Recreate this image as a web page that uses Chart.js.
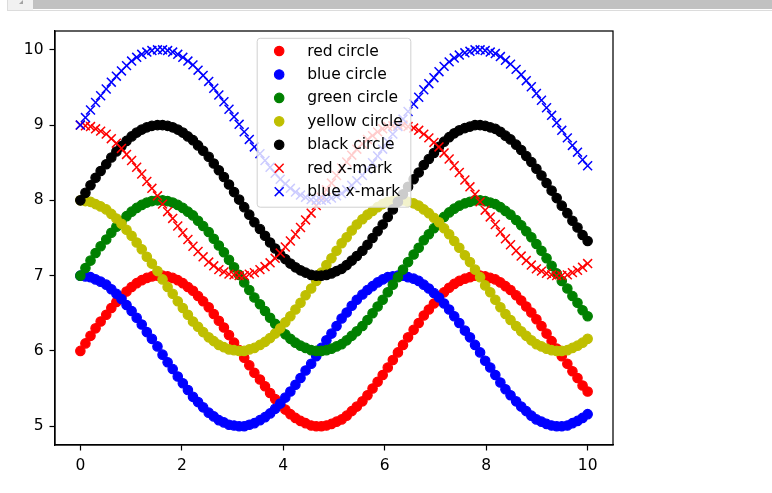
<!DOCTYPE html>
<html>
<head>
<meta charset="utf-8">
<script src="https://cdn.jsdelivr.net/npm/chart.js@4/dist/chart.umd.min.js"></script>
<style>
  html, body { margin: 0; padding: 0; background: #fff; width: 772px; height: 493px; overflow: hidden; }
  #wrap { position: absolute; left: 0; top: 0; width: 772px; height: 493px; }
  #sbLine { position: absolute; left: 7px; top: 10px; width: 765px; height: 1px; background: #dcdcdc; }
  #sbLeft { position: absolute; left: 7px; top: 0; width: 26px; height: 10px; background: #f1f1f1; border-left: 1px solid #dcdcdc; box-sizing: border-box; }
  #sbArrow { position: absolute; left: 19px; top: 0; width: 0; height: 0; border-top: 4px solid transparent; border-right: 4px solid #a3a3a3; }
  #sbThumb { position: absolute; left: 33px; top: 0; width: 739px; height: 9px; background: #c1c1c1; }
</style>
</head>
<body>
<div id="wrap"><canvas id="c" width="772" height="493"></canvas></div>
<div id="sbLeft"></div><div id="sbArrow"></div><div id="sbThumb"></div><div id="sbLine"></div>
<script>
const xs = [
0.00,0.10,0.20,0.30,0.40,0.51,0.61,0.71,0.81,0.91,
1.01,1.11,1.21,1.31,1.41,1.52,1.62,1.72,1.82,1.92,
2.02,2.12,2.22,2.32,2.42,2.53,2.63,2.73,2.83,2.93,
3.03,3.13,3.23,3.33,3.43,3.54,3.64,3.74,3.84,3.94,
4.04,4.14,4.24,4.34,4.44,4.55,4.65,4.75,4.85,4.95,
5.05,5.15,5.25,5.35,5.45,5.56,5.66,5.76,5.86,5.96,
6.06,6.16,6.26,6.36,6.46,6.57,6.67,6.77,6.87,6.97,
7.07,7.17,7.27,7.37,7.47,7.58,7.68,7.78,7.88,7.98,
8.08,8.18,8.28,8.38,8.48,8.59,8.69,8.79,8.89,8.99,
9.09,9.19,9.29,9.39,9.49,9.60,9.70,9.80,9.90,10.00];

const redCircle = [
6.00,6.10,6.20,6.30,6.39,6.48,6.57,6.65,6.72,6.79,
6.85,6.90,6.94,6.97,6.99,7.00,7.00,6.99,6.97,6.94,
6.90,6.85,6.80,6.73,6.66,6.58,6.49,6.40,6.31,6.21,
6.11,6.01,5.91,5.81,5.71,5.62,5.53,5.44,5.36,5.28,
5.22,5.16,5.11,5.07,5.04,5.01,5.00,5.00,5.01,5.03,
5.06,5.09,5.14,5.20,5.26,5.33,5.41,5.50,5.59,5.68,
5.78,5.88,5.98,6.08,6.18,6.28,6.37,6.47,6.55,6.63,
6.71,6.78,6.84,6.89,6.93,6.96,6.98,7.00,7.00,6.99,
6.97,6.95,6.91,6.86,6.81,6.74,6.67,6.59,6.51,6.42,
6.33,6.23,6.13,6.03,5.93,5.83,5.73,5.64,5.54,5.46];

const blueCircle = [
7.00,6.99,6.98,6.95,6.92,6.88,6.82,6.76,6.69,6.61,
6.53,6.44,6.35,6.25,6.16,6.06,5.95,5.85,5.76,5.66,
5.57,5.48,5.39,5.32,5.25,5.18,5.13,5.08,5.05,5.02,
5.01,5.00,5.00,5.02,5.04,5.08,5.12,5.17,5.23,5.30,
5.38,5.46,5.55,5.64,5.74,5.83,5.93,6.04,6.14,6.23,
6.33,6.43,6.51,6.60,6.68,6.75,6.81,6.86,6.91,6.95,
6.98,6.99,7.00,7.00,6.98,6.96,6.93,6.88,6.83,6.77,
6.71,6.63,6.55,6.46,6.37,6.27,6.18,6.08,5.98,5.87,
5.78,5.68,5.58,5.49,5.41,5.33,5.26,5.20,5.14,5.09,
5.06,5.03,5.01,5.00,5.00,5.01,5.04,5.07,5.11,5.16];

const greenCircle = [
7.00,7.10,7.20,7.30,7.39,7.48,7.57,7.65,7.72,7.79,
7.85,7.90,7.94,7.97,7.99,8.00,8.00,7.99,7.97,7.94,
7.90,7.85,7.80,7.73,7.66,7.58,7.49,7.40,7.31,7.21,
7.11,7.01,6.91,6.81,6.71,6.62,6.53,6.44,6.36,6.28,
6.22,6.16,6.11,6.07,6.04,6.01,6.00,6.00,6.01,6.03,
6.06,6.09,6.14,6.20,6.26,6.33,6.41,6.50,6.59,6.68,
6.78,6.88,6.98,7.08,7.18,7.28,7.37,7.47,7.55,7.63,
7.71,7.78,7.84,7.89,7.93,7.96,7.98,8.00,8.00,7.99,
7.97,7.95,7.91,7.86,7.81,7.74,7.67,7.59,7.51,7.42,
7.33,7.23,7.13,7.03,6.93,6.83,6.73,6.64,6.54,6.46];

const yellowCircle = [
8.00,7.99,7.98,7.95,7.92,7.88,7.82,7.76,7.69,7.61,
7.53,7.44,7.35,7.25,7.16,7.06,6.95,6.85,6.76,6.66,
6.57,6.48,6.39,6.32,6.25,6.18,6.13,6.08,6.05,6.02,
6.01,6.00,6.00,6.02,6.04,6.08,6.12,6.17,6.23,6.30,
6.38,6.46,6.55,6.64,6.74,6.83,6.93,7.04,7.14,7.23,
7.33,7.43,7.51,7.60,7.68,7.75,7.81,7.86,7.91,7.95,
7.98,7.99,8.00,8.00,7.98,7.96,7.93,7.88,7.83,7.77,
7.71,7.63,7.55,7.46,7.37,7.27,7.18,7.08,6.98,6.87,
6.78,6.68,6.58,6.49,6.41,6.33,6.26,6.20,6.14,6.09,
6.06,6.03,6.01,6.00,6.00,6.01,6.04,6.07,6.11,6.16];

const blackCircle = [
8.00,8.10,8.20,8.30,8.39,8.48,8.57,8.65,8.72,8.79,
8.85,8.90,8.94,8.97,8.99,9.00,9.00,8.99,8.97,8.94,
8.90,8.85,8.80,8.73,8.66,8.58,8.49,8.40,8.31,8.21,
8.11,8.01,7.91,7.81,7.71,7.62,7.53,7.44,7.36,7.28,
7.22,7.16,7.11,7.07,7.04,7.01,7.00,7.00,7.01,7.03,
7.06,7.09,7.14,7.20,7.26,7.33,7.41,7.50,7.59,7.68,
7.78,7.88,7.98,8.08,8.18,8.28,8.37,8.47,8.55,8.63,
8.71,8.78,8.84,8.89,8.93,8.96,8.98,9.00,9.00,8.99,
8.97,8.95,8.91,8.86,8.81,8.74,8.67,8.59,8.51,8.42,
8.33,8.23,8.13,8.03,7.93,7.83,7.73,7.64,7.54,7.46];

const redXMark = [
9.00,8.99,8.98,8.95,8.92,8.88,8.82,8.76,8.69,8.61,
8.53,8.44,8.35,8.25,8.16,8.06,7.95,7.85,7.76,7.66,
7.57,7.48,7.39,7.32,7.25,7.18,7.13,7.08,7.05,7.02,
7.01,7.00,7.00,7.02,7.04,7.08,7.12,7.17,7.23,7.30,
7.38,7.46,7.55,7.64,7.74,7.83,7.93,8.04,8.14,8.23,
8.33,8.43,8.51,8.60,8.68,8.75,8.81,8.86,8.91,8.95,
8.98,8.99,9.00,9.00,8.98,8.96,8.93,8.88,8.83,8.77,
8.71,8.63,8.55,8.46,8.37,8.27,8.18,8.08,7.98,7.87,
7.78,7.68,7.58,7.49,7.41,7.33,7.26,7.20,7.14,7.09,
7.06,7.03,7.01,7.00,7.00,7.01,7.04,7.07,7.11,7.16];

const blueXMark = [
9.00,9.10,9.20,9.30,9.39,9.48,9.57,9.65,9.72,9.79,
9.85,9.90,9.94,9.97,9.99,10.00,10.00,9.99,9.97,9.94,
9.90,9.85,9.80,9.73,9.66,9.58,9.49,9.40,9.31,9.21,
9.11,9.01,8.91,8.81,8.71,8.62,8.53,8.44,8.36,8.28,
8.22,8.16,8.11,8.07,8.04,8.01,8.00,8.00,8.01,8.03,
8.06,8.09,8.14,8.20,8.26,8.33,8.41,8.50,8.59,8.68,
8.78,8.88,8.98,9.08,9.18,9.28,9.37,9.47,9.55,9.63,
9.71,9.78,9.84,9.89,9.93,9.96,9.98,10.00,10.00,9.99,
9.97,9.95,9.91,9.86,9.81,9.74,9.67,9.59,9.51,9.42,
9.33,9.23,9.13,9.03,8.93,8.83,8.73,8.64,8.54,8.46];

const seriesNames = ['red circle','blue circle','green circle','yellow circle','black circle','red x-mark','blue x-mark'];
const seriesValues = [redCircle, blueCircle, greenCircle, yellowCircle, blackCircle, redXMark, blueXMark];
const seriesColors = ['#ff0000','#0000ff','#008000','#bfbf00','#000000','#ff0000','#0000ff'];
const seriesMarkers = ['circle','circle','circle','circle','circle','crossRot','crossRot'];
const xTicks = [0,2,4,6,8,10];
const yTicks = [5,6,7,8,9,10];

const FONT = "'DejaVu Sans', sans-serif";
const FONT_SIZE = 15.5;
const CIRCLE_R = 4.7, CIRCLE_BW = 1.2, CROSS_R = 6.3, CROSS_BW = 1.5;

const datasets = seriesNames.map((name, k) => ({
  label: name,
  data: xs.map((x, i) => ({ x: x, y: seriesValues[k][i] })),
  showLine: false,
  pointStyle: seriesMarkers[k],
  pointRadius: seriesMarkers[k] === 'circle' ? CIRCLE_R : CROSS_R,
  pointBorderWidth: seriesMarkers[k] === 'circle' ? CIRCLE_BW : CROSS_BW,
  pointBackgroundColor: seriesColors[k],
  pointBorderColor: seriesColors[k],
  backgroundColor: seriesColors[k],
  borderColor: seriesColors[k],
  order: seriesNames.length - k,
  clip: false
}));

const framePlugin = {
  id: 'frame',
  afterDatasetsDraw(chart) {
    const { ctx, chartArea: a } = chart;
    ctx.save();
    ctx.strokeStyle = '#000';
    ctx.lineWidth = 1.25;
    ctx.strokeRect(a.left, a.top, a.right - a.left, a.bottom - a.top);
    ctx.restore();
  }
};

const legendPlugin = {
  id: 'mplLegend',
  afterDraw(chart) {
    const { ctx, chartArea: a } = chart;
    ctx.save();
    ctx.font = FONT_SIZE + 'px ' + FONT;
    let maxW = 0;
    seriesNames.forEach(n => { maxW = Math.max(maxW, ctx.measureText(n).width); });
    const w = 50 + maxW + 8;
    const rowH = 23.45;
    const h = 12.7 + rowH * (seriesNames.length - 1) + 15.5;
    const cx = (a.left + a.right) / 2;
    const left = cx - w / 2;
    const top = a.top + 7.3;
    ctx.beginPath();
    const r = 3;
    ctx.moveTo(left + r, top);
    ctx.lineTo(left + w - r, top);
    ctx.quadraticCurveTo(left + w, top, left + w, top + r);
    ctx.lineTo(left + w, top + h - r);
    ctx.quadraticCurveTo(left + w, top + h, left + w - r, top + h);
    ctx.lineTo(left + r, top + h);
    ctx.quadraticCurveTo(left, top + h, left, top + h - r);
    ctx.lineTo(left, top + r);
    ctx.quadraticCurveTo(left, top, left + r, top);
    ctx.closePath();
    ctx.fillStyle = 'rgba(255,255,255,0.8)';
    ctx.fill();
    ctx.strokeStyle = '#d0d0d0';
    ctx.lineWidth = 1;
    ctx.stroke();
    seriesNames.forEach((n, k) => {
      const y = top + 12.7 + k * rowH;
      const mx = left + 22;
      const isCircle = seriesMarkers[k] === 'circle';
      ctx.fillStyle = seriesColors[k];
      ctx.strokeStyle = seriesColors[k];
      ctx.lineWidth = isCircle ? CIRCLE_BW : CROSS_BW;
      ctx.beginPath();
      if (isCircle) {
        ctx.arc(mx, y, CIRCLE_R, 0, Math.PI * 2);
        ctx.fill();
        ctx.stroke();
      } else {
        const d = CROSS_R * Math.SQRT1_2;
        ctx.moveTo(mx - d, y - d); ctx.lineTo(mx + d, y + d);
        ctx.moveTo(mx + d, y - d); ctx.lineTo(mx - d, y + d);
        ctx.stroke();
      }
      ctx.fillStyle = '#000';
      ctx.textAlign = 'left';
      ctx.textBaseline = 'middle';
      ctx.fillText(n, left + 50, y + 0.5);
    });
    ctx.restore();
  }
};

const tickFont = { family: FONT, size: FONT_SIZE };

new Chart(document.getElementById('c'), {
  type: 'scatter',
  data: { datasets },
  plugins: [framePlugin, legendPlugin],
  options: {
    responsive: false,
    animation: false,
    events: [],
    layout: { padding: { left: 0, top: 31, right: 159, bottom: 18 } },
    plugins: { legend: { display: false }, tooltip: { enabled: false } },
    scales: {
      x: {
        type: 'linear',
        min: -0.5, max: 10.5,
        afterBuildTicks: s => { s.ticks = xTicks.map(v => ({ value: v })); },
        afterFit: s => { s.height = 30; },
        ticks: { font: tickFont, color: '#000', padding: 6.5, maxRotation: 0, autoSkip: false, callback: v => String(v) },
        grid: { display: true, drawOnChartArea: false, drawTicks: true, tickLength: 5.5, tickWidth: 1.2, tickColor: '#000' },
        border: { display: true, color: '#000', width: 1.25 }
      },
      y: {
        type: 'linear',
        min: 4.75, max: 10.25,
        afterBuildTicks: s => { s.ticks = yTicks.map(v => ({ value: v })); },
        afterFit: s => { s.width = 55; },
        ticks: { font: tickFont, color: '#000', padding: 6, autoSkip: false, callback: v => String(v) },
        grid: { display: true, drawOnChartArea: false, drawTicks: true, tickLength: 5.5, tickWidth: 1.2, tickColor: '#000' },
        border: { display: true, color: '#000', width: 1.25 }
      }
    }
  }
});
</script>
</body>
</html>
